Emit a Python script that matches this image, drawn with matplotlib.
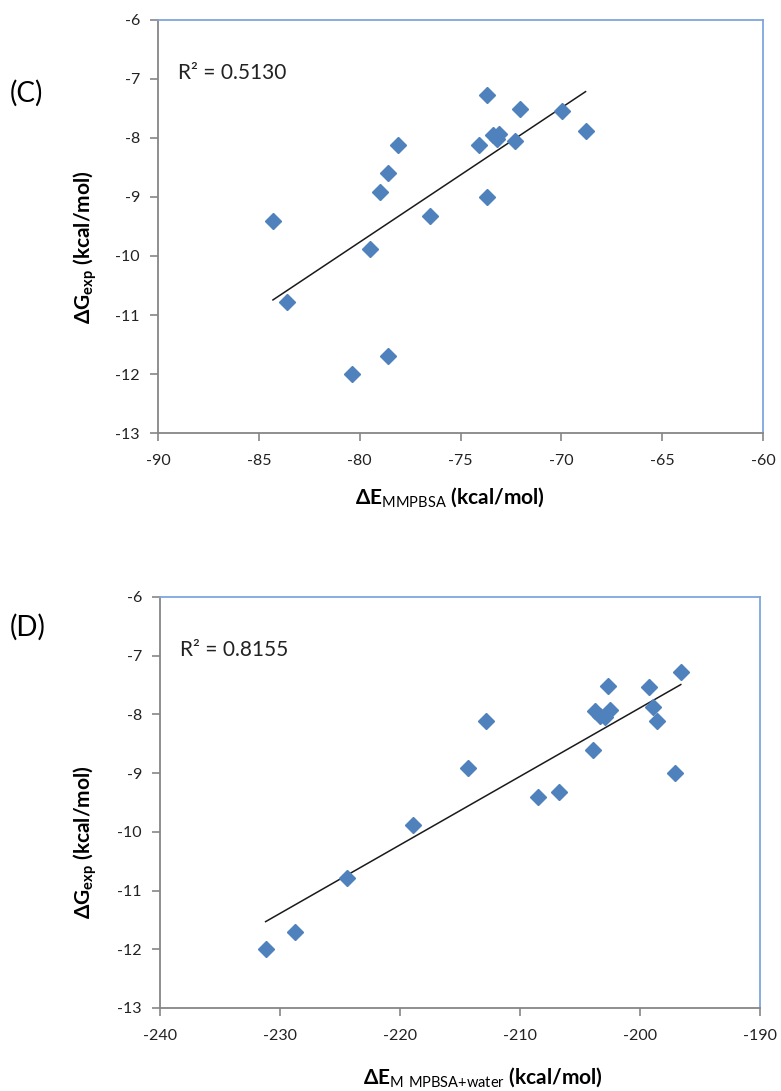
import numpy as np
import matplotlib
matplotlib.use("Agg")
import matplotlib.pyplot as plt

plt.rcParams['font.family'] = ['Lato', 'DejaVu Sans']
plt.rcParams['mathtext.fontset'] = 'custom'
plt.rcParams['mathtext.rm'] = 'Lato'
plt.rcParams['mathtext.bf'] = 'Lato:bold'
plt.rcParams['axes.unicode_minus'] = False

# experimental binding free energy (kcal/mol), same compounds in both panels
dg_exp = [-9.40, -10.78, -12.00, -9.88, -8.91, -8.60, -11.70, -8.12, -9.32, -8.12,
          -7.27, -9.00, -7.95, -7.93, -8.02, -8.05, -7.51, -7.54, -7.88]
# panel C: MMPBSA energies
e_mmpbsa = [-84.3, -83.6, -80.4, -79.5, -79.0, -78.6, -78.6, -78.1, -76.5, -74.1,
            -73.7, -73.7, -73.4, -73.1, -73.2, -72.3, -72.05, -69.95, -68.8]
# panel D: MMPBSA + water energies
e_water = [-208.5, -224.4, -231.2, -218.9, -214.3, -203.9, -228.75, -212.8, -206.75, -198.6,
           -196.6, -197.1, -203.75, -202.5, -203.3, -202.9, -202.7, -199.25, -198.9]

r2_c = "R² = 0.5130"
r2_d = "R² = 0.8155"

marker_col = '#4F81BD'
axis_gray = '#868686'
frame_blue = '#7EA6DC'


def draw_panel(ax, x, y, xlim, xstep, r2_text):
    ax.plot(x, y, 'D', color=marker_col, ms=8.5, mec=marker_col, zorder=3)
    k, b = np.polyfit(x, y, 1)
    xs = np.array([min(x), max(x)])
    ax.plot(xs, k * xs + b, color='#1a1a1a', lw=1.1, zorder=2)
    ax.set_xlim(*xlim)
    ax.set_ylim(-13, -6)
    ax.set_xticks(np.arange(xlim[0], xlim[1] + 0.1, xstep))
    ax.set_yticks(np.arange(-13, -5.9, 1))
    for s in ['left', 'bottom']:
        ax.spines[s].set_color(axis_gray)
        ax.spines[s].set_linewidth(1.3)
    for s in ['top', 'right']:
        ax.spines[s].set_color(frame_blue)
        ax.spines[s].set_linewidth(1.3)
    ax.tick_params(direction='out', length=6, width=1.2, color=axis_gray,
                   labelsize=11.5, labelcolor='#222222')
    ax.tick_params(axis='x', pad=9)
    ax.tick_params(axis='y', pad=7)
    ax.text(0.033, 0.872, r2_text, transform=ax.transAxes, fontsize=15,
            va='center', ha='left', color='#222222')


fig = plt.figure(figsize=(7.81, 10.91), dpi=100)
ax1 = fig.add_axes([0.2023, 0.6031, 0.7747, 0.3786])
ax2 = fig.add_axes([0.2049, 0.0761, 0.7682, 0.3767])

draw_panel(ax1, e_mmpbsa, dg_exp, (-90, -60), 5, r2_c)
draw_panel(ax2, e_water, dg_exp, (-240, -190), 10, r2_d)

ylab = r"$\mathbf{\Delta G}_{\mathbf{exp}}$ (kcal/mol)"
fig.text(85 / 781, 1 - 247 / 1091, ylab, rotation=90, fontsize=15,
         fontweight='bold', ha='center', va='center')
fig.text(85 / 781, 1 - 842 / 1091, ylab, rotation=90, fontsize=15,
         fontweight='bold', ha='center', va='center')

fig.text(450 / 781, 1 - 498 / 1091, r"$\mathbf{\Delta E}_{\mathrm{MMPBSA}}$ (kcal/mol)",
         fontsize=15, fontweight='bold', ha='center', va='center')
fig.text(483 / 781, 1 - 1078 / 1091, r"$\mathbf{\Delta E}_{\mathrm{M\ MPBSA{+}water}}$ (kcal/mol)",
         fontsize=15, fontweight='bold', ha='center', va='center')

fig.text(10 / 781, 1 - 93 / 1091, "(C)", fontsize=20, ha='left', va='center')
fig.text(10 / 781, 1 - 627 / 1091, "(D)", fontsize=20, ha='left', va='center')

fig.savefig("out.png", dpi=100)
